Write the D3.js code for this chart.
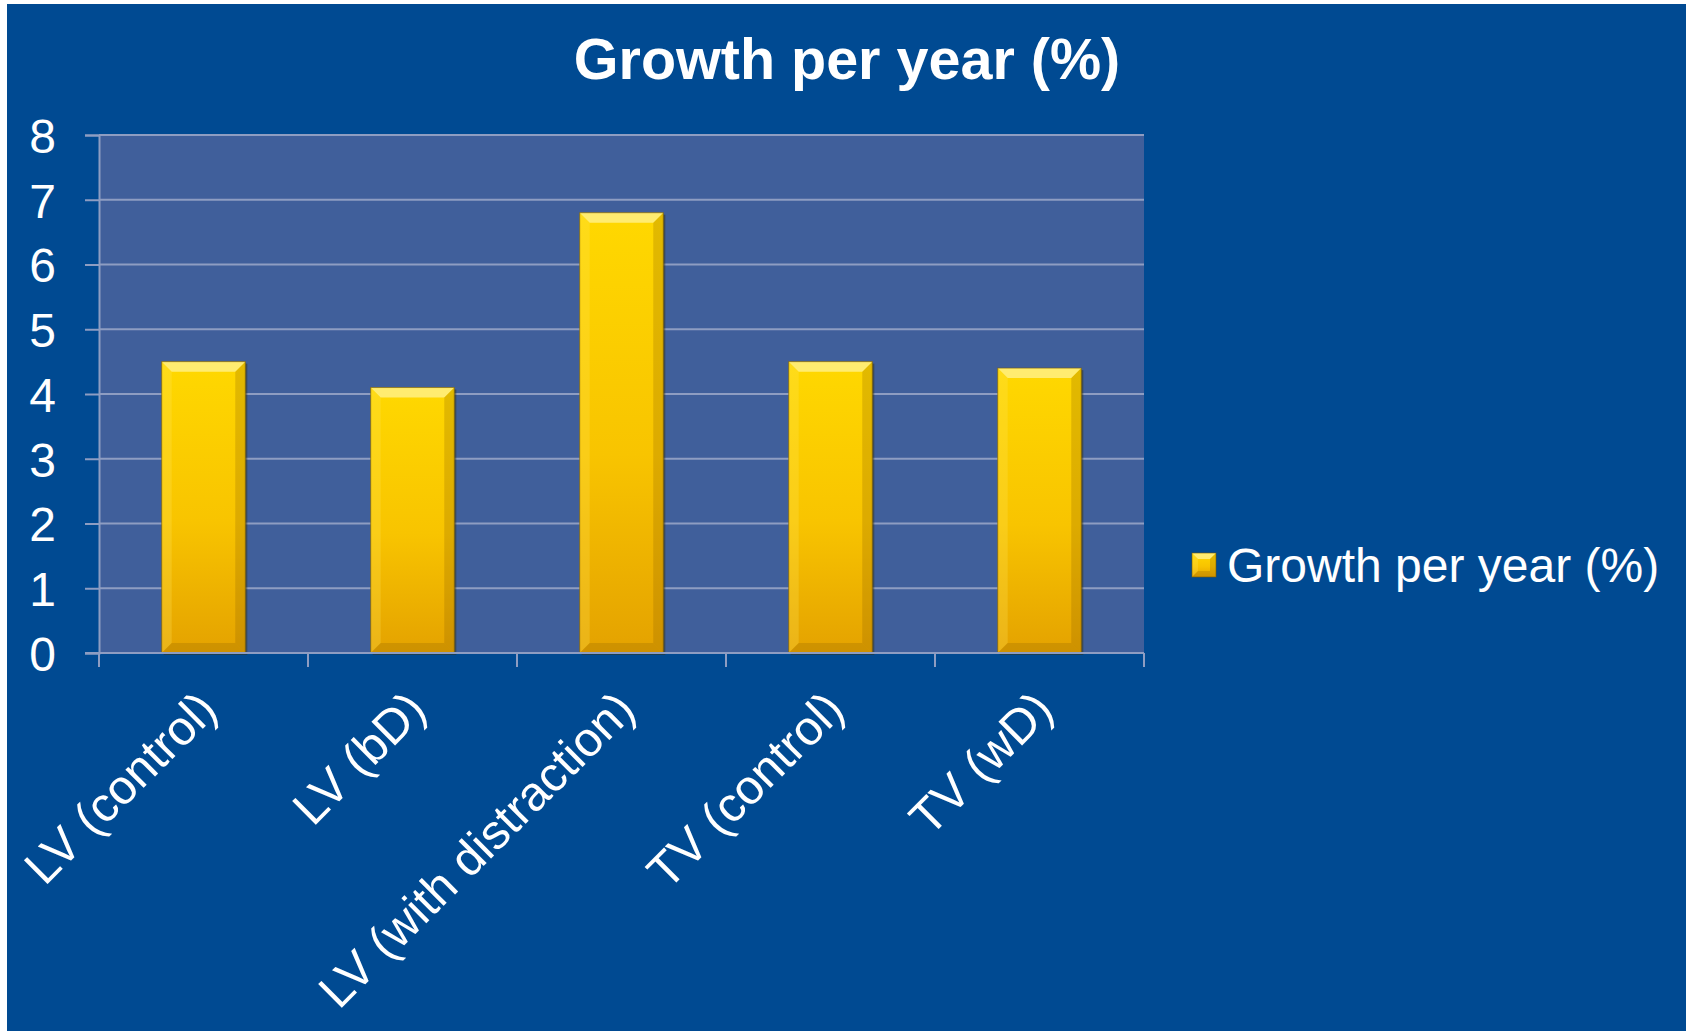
<!DOCTYPE html>
<html>
<head>
<meta charset="utf-8">
<script src="https://cdn.jsdelivr.net/npm/d3@7"></script>
<style>
  body { margin: 0; background: #fff; }
  svg { display: block; font-family: "Liberation Sans", Arial, sans-serif; }
</style>
</head>
<body>
<div id="chart"></div>
<script>
// Data
const categories = ['LV (control)', 'LV (bD)', 'LV (with distraction)', 'TV (control)', 'TV (wD)'];
const growth = [4.5, 4.1, 6.8, 4.5, 4.4];
const yTicks = [0, 1, 2, 3, 4, 5, 6, 7, 8];
const seriesName = 'Growth per year (%)';

const svgWidth = 1691, svgHeight = 1031;
const plot = { left: 99, right: 1144, top: 135, bottom: 653 };

const svg = d3.select('#chart')
  .append('svg')
  .attr('width', svgWidth)
  .attr('height', svgHeight);

// Gradient for the gold bars
const defs = svg.append('defs');
const grad = defs.append('linearGradient')
  .attr('id', 'gold')
  .attr('x1', 0).attr('y1', 0).attr('x2', 0).attr('y2', 1);
grad.append('stop').attr('offset', '0%').attr('stop-color', '#FFD800');
grad.append('stop').attr('offset', '55%').attr('stop-color', '#F8C400');
grad.append('stop').attr('offset', '100%').attr('stop-color', '#E4A200');

// Slide background
svg.append('rect')
  .attr('x', 7).attr('y', 4)
  .attr('width', 1679).attr('height', svgHeight - 4)
  .attr('fill', '#004A92');

// Plot area
svg.append('rect')
  .attr('x', plot.left).attr('y', plot.top)
  .attr('width', plot.right - plot.left).attr('height', plot.bottom - plot.top)
  .attr('fill', '#405F9B');

// Scales
const x = d3.scaleBand()
  .domain(categories)
  .range([plot.left, plot.right])
  .paddingInner(0.6)
  .paddingOuter(0.3);

const y = d3.scaleLinear()
  .domain([0, 8])
  .range([plot.bottom, plot.top]);

const lineColor = '#8E9DC2';

// Gridlines
svg.append('g')
  .selectAll('line')
  .data(yTicks.filter(d => d > 0))
  .enter()
  .append('line')
  .attr('x1', plot.left).attr('x2', plot.right)
  .attr('y1', d => y(d)).attr('y2', d => y(d))
  .attr('stroke', lineColor)
  .attr('stroke-width', 2);

// Y axis
const yAxis = svg.append('g')
  .attr('transform', `translate(${plot.left}, 0)`)
  .call(d3.axisLeft(y).tickValues(yTicks).tickSize(14).tickPadding(29));
yAxis.select('.domain').attr('stroke', lineColor).attr('stroke-width', 2);
yAxis.selectAll('.tick line').attr('stroke', lineColor).attr('stroke-width', 2);
yAxis.selectAll('.tick text')
  .attr('fill', '#fff')
  .style('font-size', '48px')
  .style('font-family', '"Liberation Sans", Arial, sans-serif')
  .attr('dy', '0.36em');

// Bars with bevel
const bev = 10;
const bars = svg.append('g')
  .selectAll('g')
  .data(categories.map((c, i) => ({ cat: c, value: growth[i] })))
  .enter()
  .append('g');

bars.append('rect')
  .attr('x', d => x(d.cat) + 2)
  .attr('y', d => y(d.value) + 2)
  .attr('width', x.bandwidth())
  .attr('height', d => y(0) - y(d.value))
  .attr('fill', '#3a3000')
  .attr('opacity', 0.45);

bars.append('rect')
  .attr('x', d => x(d.cat))
  .attr('y', d => y(d.value))
  .attr('width', x.bandwidth())
  .attr('height', d => y(0) - y(d.value))
  .attr('fill', 'url(#gold)');

function bevelPaths(g, x0, y0, w, h, b) {
  const x1 = x0 + w, y1 = y0 + h;
  g.append('path')
    .attr('d', `M${x0},${y0}L${x1},${y0}L${x1 - b},${y0 + b}L${x0 + b},${y0 + b}Z`)
    .attr('fill', '#FFF5A0').attr('opacity', 0.7);
  g.append('path')
    .attr('d', `M${x0},${y0}L${x0 + b},${y0 + b}L${x0 + b},${y1 - b}L${x0},${y1}Z`)
    .attr('fill', '#FFE860').attr('opacity', 0.25);
  g.append('path')
    .attr('d', `M${x1},${y0}L${x1 - b},${y0 + b}L${x1 - b},${y1 - b}L${x1},${y1}Z`)
    .attr('fill', '#8A5E00').attr('opacity', 0.25);
  g.append('path')
    .attr('d', `M${x0},${y1}L${x0 + b},${y1 - b}L${x1 - b},${y1 - b}L${x1},${y1}Z`)
    .attr('fill', '#8A5E00').attr('opacity', 0.25);
  g.append('rect')
    .attr('x', x0).attr('y', y0).attr('width', w).attr('height', h)
    .attr('fill', 'none').attr('stroke', '#7A5A00').attr('stroke-width', 1).attr('opacity', 0.6);
}

bars.each(function (d) {
  bevelPaths(d3.select(this), x(d.cat), y(d.value), x.bandwidth(), y(0) - y(d.value), bev);
});

// Zero line drawn over bars
svg.append('line')
  .attr('x1', plot.left - 14).attr('x2', plot.right)
  .attr('y1', y(0)).attr('y2', y(0))
  .attr('stroke', lineColor)
  .attr('stroke-width', 2);

// Category boundary ticks
const bounds = d3.range(categories.length + 1).map(i => plot.left + i * x.step());
svg.append('g')
  .selectAll('line')
  .data(bounds)
  .enter()
  .append('line')
  .attr('x1', d => d).attr('x2', d => d)
  .attr('y1', y(0)).attr('y2', y(0) + 14)
  .attr('stroke', lineColor)
  .attr('stroke-width', 2);

// Rotated category labels
svg.append('g')
  .selectAll('text')
  .data(categories)
  .enter()
  .append('text')
  .attr('transform', d => `translate(${x(d) + x.bandwidth() / 2 + 4}, 700) rotate(-45)`)
  .attr('text-anchor', 'end')
  .attr('dy', '0.35em')
  .attr('fill', '#fff')
  .style('font-size', '48.5px')
  .text(d => d);

// Title
svg.append('text')
  .attr('x', 847)
  .attr('y', 79)
  .attr('text-anchor', 'middle')
  .attr('fill', '#fff')
  .style('font-size', '57.5px')
  .style('font-weight', 'bold')
  .text(seriesName);

// Legend
const legend = svg.append('g').attr('transform', 'translate(1192, 553)');
legend.append('rect')
  .attr('width', 24).attr('height', 24)
  .attr('fill', 'url(#gold)');
bevelPaths(legend, 0, 0, 24, 24, 6);
legend.append('text')
  .attr('x', 35)
  .attr('y', 29)
  .attr('fill', '#fff')
  .style('font-size', '48px')
  .text(seriesName);
</script>
</body>
</html>
